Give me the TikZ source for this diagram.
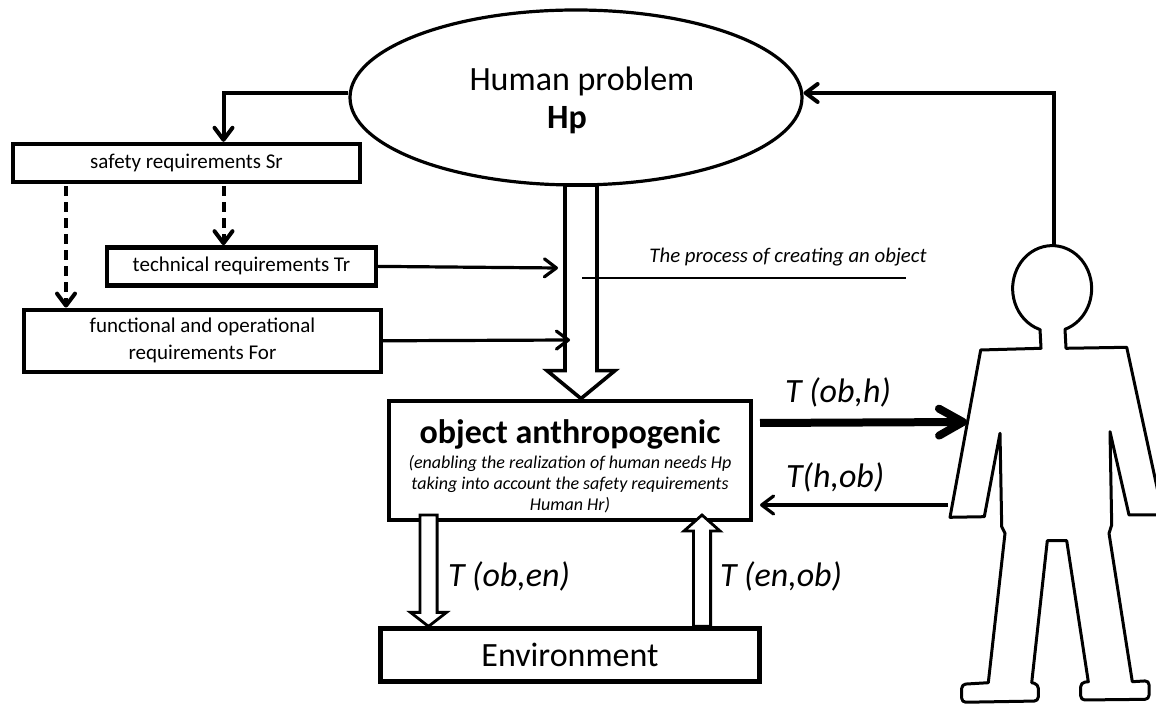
\documentclass[tikz,border=0pt]{standalone}
\usepackage{fontspec}
\setmainfont{Carlito}
\usetikzlibrary{arrows.meta, calc, positioning, shapes.geometric}
\tikzset{
  ->,
  >={Straight Barb[length=6pt,width=9pt,round]},
  reqbox/.style={draw, line width=2.2pt, inner sep=0pt, align=center, font=\fontsize{10.5}{13.5}\selectfont},
  mainbox/.style={draw, line width=2.4pt, inner sep=0pt, align=center},
  thin arrow/.style={line width=1.6pt},
  mid arrow/.style={line width=2pt},
  dash arrow/.style={line width=2pt, dash pattern=on 5pt off 3pt},
  hollow/.style={draw, fill=white, line width=#1, line join=miter},
  tlabel/.style={font=\fontsize{17}{20}\selectfont\itshape, inner sep=0pt},
}
% hollow arrow: from, to, half shaft, half head, head length, line width
\newcommand{\hollowarrow}[6]{
  \path[hollow=#6] ($(#1)!#3!-90:(#2)$)
    -- ($(#2)!#5!(#1)!#3!-90:(#2)$)
    -- ($(#2)!#5!(#1)!#4!-90:(#2)$)
    -- (#2)
    -- ($(#2)!#5!(#1)!#4!90:(#2)$)
    -- ($(#2)!#5!(#1)!#3!90:(#2)$)
    -- ($(#1)!#3!90:(#2)$)
    -- cycle;
}

\begin{document}
\begin{tikzpicture}[x=0.5pt, y=-0.5pt]
	\useasboundingbox (0,0) rectangle (1156,704);

	% problem and requirements
	\node[draw, ellipse, line width=1.6pt, inner sep=0pt, minimum width=226pt, minimum height=87.5pt,
		label={[align=center, xshift=3pt, yshift=-1.25pt, font=\fontsize{17}{19}\selectfont]center:Human problem\\\textbf{Hp}\hspace*{15pt}}] (hp) at (576,97.5) {};
	\node[reqbox, minimum width=173.5pt, minimum height=19pt] (sr) at (186.5,163) {safety requirements Sr};
	\node[reqbox, minimum width=134.5pt, minimum height=19pt, below=30.5pt of sr, xshift=27.5pt] (tr) {technical requirements Tr};
	\node[reqbox, minimum width=178.5pt, minimum height=31pt, below=10pt of tr, xshift=-19.5pt] (for) {functional and operational\\requirements For};

	% object and environment
	\node[mainbox, minimum width=181pt, minimum height=59.5pt, below=106pt of hp, xshift=-3pt, font=\fontsize{9}{10.5}\selectfont\itshape] (obj)
		{{\rule{0pt}{18pt}\fontsize{17}{20}\selectfont\bfseries\upshape object anthropogenic}\\[2pt]
		(enabling the realization of human needs Hp\\taking into account the safety requirements\\Human Hr)};
	\node[mainbox, minimum width=189.5pt, minimum height=26.5pt, below=52pt of obj, font=\fontsize{17}{20}\selectfont] (env) {Environment};

	% person
	\coordinate (headtop) at (1054,247);
	\coordinate (armside) at (967,422);
	\coordinate (handside) at (948,505);
	\draw[line width=1.5pt, line join=round, fill=white] (1040,329.3) -- (1041,348.3) -- (980.7,350) -- (950,517.3)
		-- (984.3,516.7) -- (1000,433.3) -- (1001.7,526.7) -- (1005,533.3) -- (988.3,682.7)
		[rounded corners=2pt] -- (961.7,684.3) -- (961.7,702.3) -- (1038.3,701) -- (1038.3,684.3) [sharp corners] -- (1031.7,682.7)
		-- (1047.3,540.7) -- (1066.7,540.7) -- (1088.3,681.7)
		[rounded corners=2pt] -- (1080.7,682.7) -- (1080.7,700) -- (1149,699.3) -- (1149,680.7) [sharp corners] -- (1132.3,681.7)
		-- (1109,533.3) -- (1111.7,525) -- (1110,431.7) -- (1129,515) -- (1163,515)
		-- (1126.7,347.3) -- (1066,348.3) -- (1065,329.3)
		arc[start angle=71, end angle=-251, x radius=39.5, y radius=43] -- cycle;

	% arrows
	\draw[mid arrow] ([yshift=2.25pt]hp.west) -| ([xshift=18.5pt]sr.north);
	\draw[dash arrow] ([xshift=18.5pt, yshift=-1pt]sr.south) -- ([xshift=-9pt]tr.north);
	\draw[dash arrow] ([xshift=-60.25pt, yshift=-1pt]sr.south) -- ([xshift=-68.25pt]for.north);
	\coordinate (trend) at (558,268);
	\coordinate (forend) at (570,340);
	\coordinate (hpout) at (581,185);
	\hollowarrow{hpout}{hpout |- obj.north}{8pt}{17pt}{14pt}{1.8pt}
	\draw[thin arrow] (tr.east) -- (trend);
	\draw[thin arrow] (for.east) -- (forend);
	\draw[mid arrow] (headtop) |- ([yshift=2.25pt]hp.east);

	% process line
	\node[inner sep=0pt, font=\fontsize{10.4}{12}\selectfont\itshape] (proc) at (788,257) {The process of creating an object};
	\coordinate (procl) at (582,278);
	\coordinate (procr) at (906,278);
	\draw[-, line width=1.3pt] (procl) -- (procr);

	\coordinate (obout) at (760,423);
	\coordinate (obin) at (760,505);
	\draw[line width=4pt, -{Straight Barb[length=12pt,width=13.5pt,round]}] (obout) -- (armside) node[pos=.377, above=5.5pt, tlabel] (tobh) {T (ob,h)};
	\draw[thin arrow] (handside) -- (obin) node[pos=.6, above=5.5pt, tlabel] (thob) {T(h,ob)};

	\coordinate (oben) at (428.5,515);
	\coordinate (enob) at (702,515);
	\hollowarrow{oben}{oben |- env.north}{4.3pt}{9pt}{7pt}{1.4pt}
	\hollowarrow{enob |- env.north}{enob}{4.3pt}{9pt}{8pt}{1.4pt}
	\node[tlabel] (toben) at (509,576) {T (ob,en)};
	\node[tlabel] (tenob) at (781,576) {T (en,ob)};
\end{tikzpicture}
\end{document}
